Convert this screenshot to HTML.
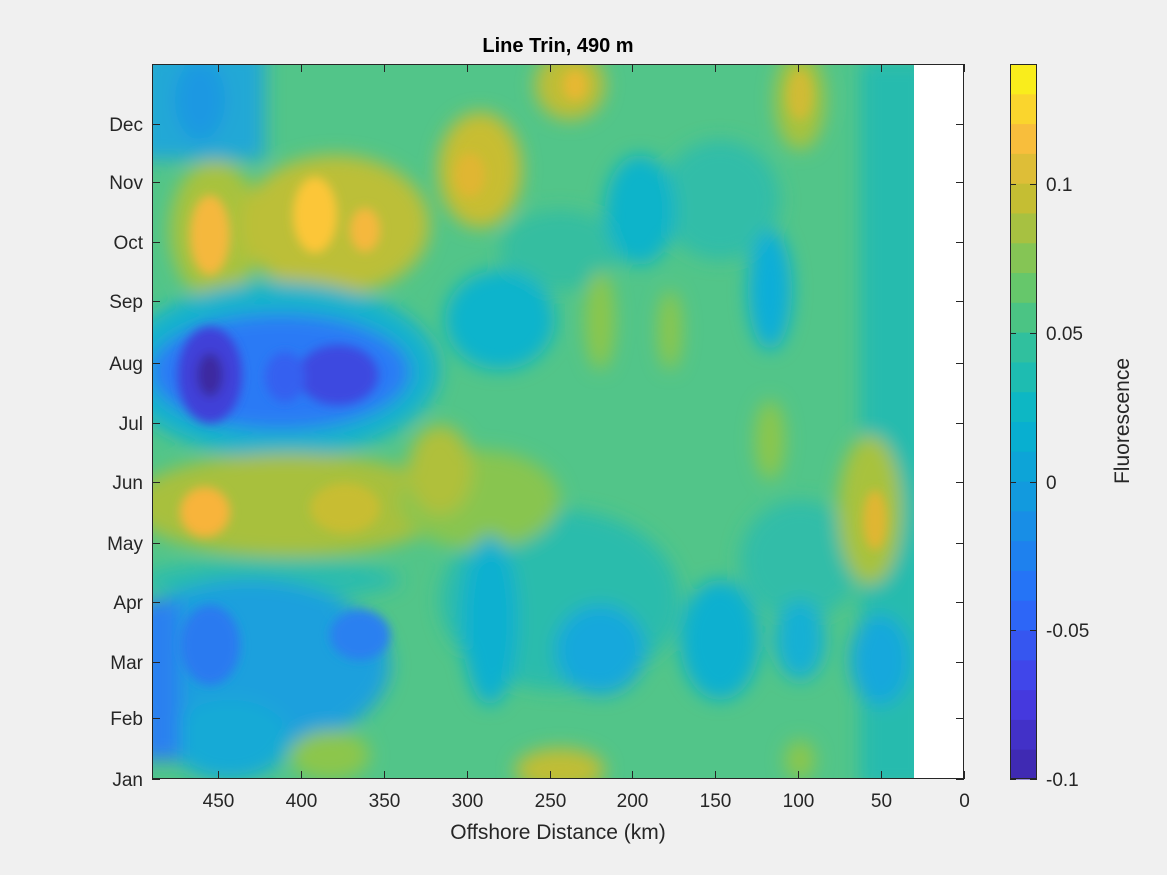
<!DOCTYPE html>
<html><head><meta charset="utf-8"><style>
html,body{margin:0;padding:0;background:#f0f0f0;}
svg{display:block;font-family:"Liberation Sans","DejaVu Sans",sans-serif;}
</style></head><body>
<svg id="s" width="1167" height="875" xmlns="http://www.w3.org/2000/svg">
<defs>
<clipPath id="c"><rect x="152" y="64" width="762" height="715"/></clipPath>
<filter id="b" x="-50%" y="-50%" width="200%" height="200%"><feGaussianBlur stdDeviation="9"/></filter>
<filter id="b2" x="-50%" y="-50%" width="200%" height="200%"><feGaussianBlur stdDeviation="5"/></filter>
</defs>
<rect x="0" y="0" width="1167" height="875" fill="#f0f0f0"/>
<rect x="152" y="64" width="812" height="715" fill="#fff"/>
<g clip-path="url(#c)">
<rect x="140" y="50" width="790" height="740" fill="#52c589"/>
<g filter="url(#b)">
<rect x="140" y="50" width="125" height="110" fill="#22a8d6"/>
<ellipse cx="200" cy="100" rx="25" ry="40" fill="#1c98e2"/>
<rect x="860" y="60" width="70" height="730" fill="#26bbae"/>
<ellipse cx="560" cy="250" rx="60" ry="40" fill="#36bea0"/>
<ellipse cx="720" cy="200" rx="60" ry="60" fill="#30bda8"/>
<ellipse cx="800" cy="560" rx="60" ry="60" fill="#30bda8"/>
<ellipse cx="560" cy="600" rx="120" ry="90" fill="#2cbcac"/>
<ellipse cx="215" cy="230" rx="45" ry="70" fill="#a8c23e"/>
<ellipse cx="335" cy="225" rx="95" ry="70" fill="#bcbf38"/>
<ellipse cx="480" cy="170" rx="42" ry="58" fill="#c8bd30"/>
<ellipse cx="570" cy="85" rx="35" ry="35" fill="#c0bd36"/>
<ellipse cx="800" cy="100" rx="25" ry="50" fill="#a8c23e"/>
<ellipse cx="280" cy="370" rx="160" ry="88" fill="#18b2cc"/>
<ellipse cx="280" cy="372" rx="130" ry="58" fill="#2a7af5"/>
<ellipse cx="290" cy="505" rx="160" ry="52" fill="#a8c03e"/>
<ellipse cx="480" cy="500" rx="80" ry="50" fill="#88c550"/>
<ellipse cx="270" cy="580" rx="130" ry="20" fill="#2abcae"/>
<ellipse cx="250" cy="665" rx="140" ry="85" fill="#1aa0dd"/>
<ellipse cx="230" cy="740" rx="60" ry="40" fill="#14aad6"/>
<ellipse cx="330" cy="755" rx="40" ry="25" fill="#8cc64c"/>
<ellipse cx="640" cy="210" rx="35" ry="55" fill="#11b4ca"/>
<ellipse cx="500" cy="320" rx="55" ry="50" fill="#0db4cc"/>
<ellipse cx="770" cy="290" rx="22" ry="60" fill="#10aed8"/>
<ellipse cx="490" cy="620" rx="28" ry="85" fill="#10b0d0"/>
<ellipse cx="600" cy="650" rx="45" ry="45" fill="#14a8dc"/>
<ellipse cx="720" cy="640" rx="40" ry="60" fill="#10b0d0"/>
<ellipse cx="800" cy="640" rx="25" ry="40" fill="#12b0d4"/>
<ellipse cx="880" cy="660" rx="30" ry="45" fill="#14a8dc"/>
<ellipse cx="440" cy="470" rx="32" ry="45" fill="#b0c03a"/>
<ellipse cx="870" cy="510" rx="32" ry="75" fill="#a8c23e"/>
<ellipse cx="770" cy="440" rx="15" ry="40" fill="#8cc64c"/>
<ellipse cx="600" cy="320" rx="15" ry="50" fill="#8cc64c"/>
<ellipse cx="670" cy="330" rx="12" ry="40" fill="#8cc64c"/>
<ellipse cx="560" cy="770" rx="45" ry="22" fill="#c0bd36"/>
<ellipse cx="800" cy="760" rx="15" ry="20" fill="#8cc64c"/>
<rect x="140" y="600" width="40" height="160" fill="#2a80f0"/>
</g>
<g filter="url(#b2)">
<ellipse cx="210" cy="235" rx="20" ry="40" fill="#f5b83c"/>
<ellipse cx="315" cy="215" rx="22" ry="38" fill="#fcc637"/>
<ellipse cx="365" cy="230" rx="15" ry="22" fill="#f5b83c"/>
<ellipse cx="470" cy="175" rx="15" ry="22" fill="#e0b630"/>
<ellipse cx="575" cy="85" rx="12" ry="15" fill="#e6b830"/>
<ellipse cx="800" cy="95" rx="12" ry="25" fill="#d0bb34"/>
<ellipse cx="210" cy="375" rx="32" ry="48" fill="#4040d8"/>
<ellipse cx="210" cy="375" rx="13" ry="22" fill="#3d2aa0"/>
<ellipse cx="338" cy="375" rx="40" ry="30" fill="#3c48e0"/>
<ellipse cx="285" cy="377" rx="20" ry="25" fill="#3560f0"/>
<ellipse cx="205" cy="512" rx="25" ry="25" fill="#f8b43a"/>
<ellipse cx="345" cy="508" rx="35" ry="25" fill="#c8bd30"/>
<ellipse cx="210" cy="645" rx="30" ry="40" fill="#2a7af0"/>
<ellipse cx="360" cy="635" rx="30" ry="25" fill="#2a80f0"/>
<ellipse cx="875" cy="520" rx="12" ry="30" fill="#e0b630"/>
</g>
</g>
<g id="ax" stroke="#262626" stroke-width="1" fill="none">
<rect x="152.5" y="64.5" width="811" height="714"/>
</g>
<g id="txt" font-size="19" fill="#262626"></g>
<text x="558" y="52" text-anchor="middle" font-size="20" font-weight="bold" fill="#000">Line Trin, 490 m</text>
<text x="558" y="839" text-anchor="middle" font-size="21" fill="#262626">Offshore Distance (km)</text>
<text transform="translate(1129,421) rotate(-90)" text-anchor="middle" font-size="21" fill="#262626">Fluorescence</text>
<g id="cb"></g>
</svg>
<script>
var s=document.getElementById('ax'),t=document.getElementById('txt'),cb=document.getElementById('cb'),NS="http://www.w3.org/2000/svg";
function el(p,n,a,tx){var e=document.createElementNS(NS,n);for(var k in a)e.setAttribute(k,a[k]);if(tx)e.textContent=tx;p.appendChild(e);return e;}
var m=[["Jan",779],["Feb",718],["Mar",662],["Apr",602],["May",543],["Jun",482],["Jul",423],["Aug",363],["Sep",301],["Oct",242],["Nov",182],["Dec",124]];
m.forEach(function(a){var y=a[1]+.5;el(s,'line',{x1:152,x2:160,y1:y,y2:y});el(s,'line',{x1:956,x2:964,y1:y,y2:y});el(t,'text',{x:143,y:a[1]+7,'text-anchor':'end'},a[0]);});
for(var k=0;k<=450;k+=50){var x=Math.round(964-k*1.6578)+.5;el(s,'line',{x1:x,x2:x,y1:771,y2:779});el(s,'line',{x1:x,x2:x,y1:64,y2:72});el(t,'text',{x:x,y:807,'text-anchor':'middle'},""+k);}
var P=[[0,[62,38,168]],[0.12,[70,60,230]],[0.25,[40,110,250]],[0.38,[20,150,225]],[0.5,[5,180,205]],[0.6,[45,192,160]],[0.7,[110,200,100]],[0.8,[190,190,50]],[0.9,[250,190,60]],[1,[249,250,20]]];
function col(v){for(var i=1;i<P.length;i++)if(v<=P[i][0]){var a=P[i-1],b=P[i],f=(v-a[0])/(b[0]-a[0]);return 'rgb('+[0,1,2].map(function(j){return Math.round(a[1][j]+f*(b[1][j]-a[1][j]))}).join(',')+')';}}
var h=715/24;for(var i=0;i<24;i++){el(cb,'rect',{x:1010,y:779-(i+1)*h,width:27,height:h+0.5,fill:col((i+0.5)/24)});}
el(cb,'rect',{x:1010.5,y:64.5,width:26,height:714,fill:'none',stroke:'#262626'});
[["-0.1",779],["-0.05",630],["0",482],["0.05",333],["0.1",184]].forEach(function(a){el(cb,'line',{x1:1030,x2:1037,y1:a[1]+.5,y2:a[1]+.5,stroke:'#262626'});el(cb,'line',{x1:1010,x2:1016,y1:a[1]+.5,y2:a[1]+.5,stroke:'#262626'});el(cb,'text',{x:1046,y:a[1]+7,'font-size':19,fill:'#262626'},a[0]);});
</script>
</body></html>
